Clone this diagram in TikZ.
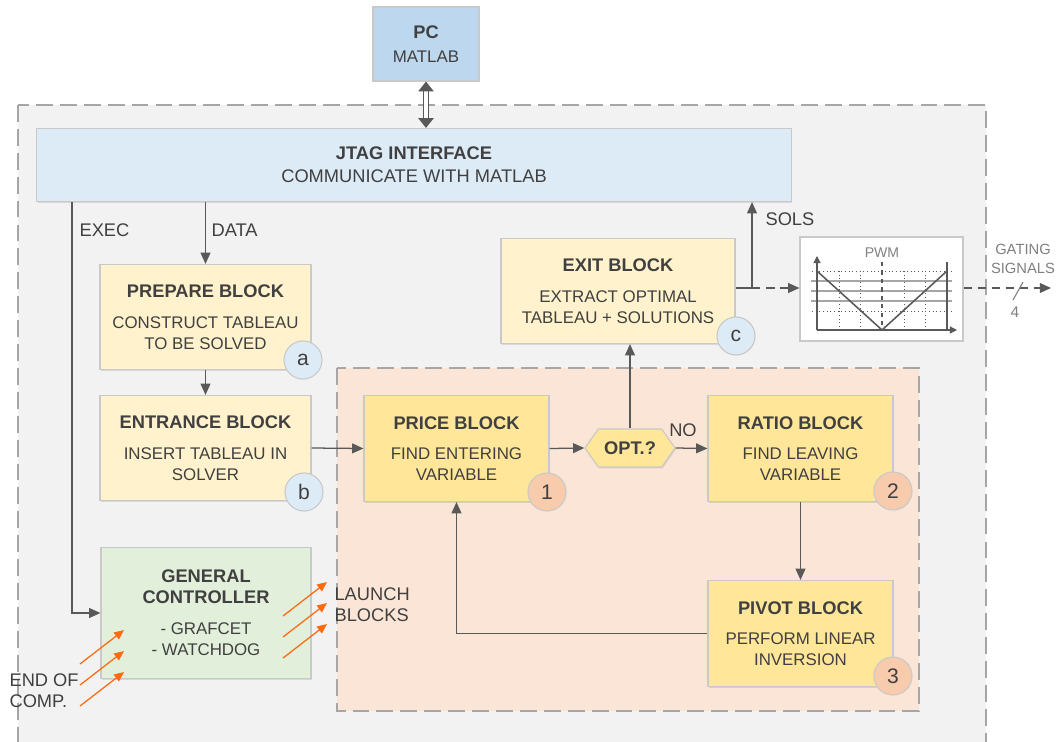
\documentclass[tikz,border=0pt]{standalone}
\usepackage{fontspec}
\setmainfont{Liberation Sans}
\usetikzlibrary{arrows.meta,shapes.symbols,shadows}
\definecolor{txt}{HTML}{404040}
\definecolor{wire}{HTML}{595959}
\definecolor{edge}{HTML}{C9C9C9}
\definecolor{zoneline}{HTML}{A6A6A6}
\definecolor{zonegray}{HTML}{F2F2F2}
\definecolor{zoneorange}{HTML}{FBE5D6}
\definecolor{pcblue}{HTML}{BDD7EE}
\definecolor{jtagblue}{HTML}{DDEBF7}
\definecolor{cream}{HTML}{FFF2CC}
\definecolor{gold}{HTML}{FFE699}
\definecolor{mint}{HTML}{E2EFDA}
\definecolor{peach}{HTML}{F8CBAD}
\definecolor{spark}{HTML}{FF6A10}
\definecolor{softgray}{HTML}{808080}
\newcommand{\blktitle}[1]{{\fontsize{13}{15}\selectfont\bfseries #1}}
\begin{document}
\begin{tikzpicture}[x=0.025cm,y=-0.025cm,line width=.8pt,text=txt,font=\fontsize{13}{15}\selectfont,
  box/.style={draw=edge,align=center,inner sep=1pt,font=\fontsize{12}{15}\selectfont,
    drop shadow={shadow xshift=.7pt,shadow yshift=-.9pt,opacity=.22}},
  conn/.style={draw=wire,line width=.9pt,-{Triangle[length=8pt,width=7pt]}},
  badge/.style={circle,draw=edge,minimum size=.95cm,inner sep=0pt,font=\fontsize{15}{17}\selectfont},
  zone/.style={draw=zoneline,line width=.8pt,dash pattern=on 12pt off 5pt},
  fire/.style={draw=spark,line width=.9pt,-{Triangle[length=7pt,width=6pt]}},
  lbl/.style={inner sep=0pt,font=\fontsize{13}{15}\selectfont}]
\useasboundingbox (0,0) rectangle (1058,742);
\fill[white] (0,0) rectangle (1058,742);
\draw[zone,fill=zonegray] (18,105) rectangle (986,780);
\draw[zone,fill=zoneorange] (337,368) rectangle (919,711);

\node[box,fill=pcblue,minimum width=2.65cm,minimum height=1.85cm] (pc) at (426,44) {\blktitle{PC}\\[2pt]MATLAB};
\node[box,fill=jtagblue,minimum width=18.85cm,minimum height=1.825cm,font=\fontsize{13}{15}\selectfont] (jtag) at (414,165) {\blktitle{JTAG INTERFACE}\\[1.5pt]COMMUNICATE WITH MATLAB};
\node[box,fill=cream,minimum width=5.275cm,minimum height=2.625cm] (prep) at (205.5,317) {\blktitle{PREPARE BLOCK}\\[7pt]CONSTRUCT TABLEAU\\TO BE SOLVED};
\node[box,fill=cream,minimum width=5.275cm,minimum height=2.625cm] (ent) at (205.5,448) {\blktitle{ENTRANCE BLOCK}\\[7pt]INSERT TABLEAU IN\\SOLVER};
\node[box,fill=mint,minimum width=5.25cm,minimum height=3.275cm] (gen) at (206,613) {\blktitle{GENERAL}\\\blktitle{CONTROLLER}\\[7pt]- GRAFCET\\- WATCHDOG};
\node[box,fill=gold,minimum width=4.625cm,minimum height=2.65cm] (price) at (456.5,448.5) {\blktitle{PRICE BLOCK}\\[6pt]FIND ENTERING\\VARIABLE};
\node[box,fill=gold,minimum width=4.625cm,minimum height=2.65cm] (ratio) at (800.5,448.5) {\blktitle{RATIO BLOCK}\\[6pt]FIND LEAVING\\VARIABLE};
\node[box,fill=gold,minimum width=4.625cm,minimum height=2.65cm] (pivot) at (800.5,633.5) {\blktitle{PIVOT BLOCK}\\[6pt]PERFORM LINEAR\\INVERSION};
\node[box,fill=cream,minimum width=5.85cm,minimum height=2.625cm] (exit) at (618,291) {\blktitle{EXIT BLOCK}\\[7pt]EXTRACT OPTIMAL\\TABLEAU + SOLUTIONS};
\node[box,signal,signal to=west and east,signal pointer angle=110,fill=gold,minimum width=2.25cm,minimum height=.95cm,inner sep=0pt,font=\fontsize{13}{15}\selectfont\bfseries] (opt) at (630,448) {OPT.?};
\node[box,fill=white,minimum width=4.075cm,minimum height=2.6cm] (pwm) at (881.5,289) {};

\node[badge,fill=jtagblue] (ba) at (303,360) {a};
\node[badge,fill=jtagblue] (bb) at (304,492) {b};
\node[badge,fill=jtagblue] (bc) at (736,336) {c};
\node[badge,fill=peach] (b1) at (547,492) {1};
\node[badge,fill=peach] (b2) at (893,491) {2};
\node[badge,fill=peach] (b3) at (893,676) {3};

\draw[draw=wire,line width=.8pt,double=white,double distance=2.4pt,{Triangle[length=7pt,width=11pt]}-{Triangle[length=7pt,width=11pt]}] (pc.south) -- (pc.south |- jtag.north);
\coordinate (exectop) at (72,202);
\draw[conn] (exectop) |- (gen.west);
\node[lbl,anchor=west] (exec) at (79,230) {EXEC};
\draw[conn] (jtag.south -| prep.north) -- (prep.north);
\node[lbl,anchor=west] (data) at (211,230) {DATA};
\draw[conn] (prep.south) -- (ent.north);
\draw[conn] (ent.east) -- (price.west);
\draw[conn] (price.east) -- (opt.west);
\draw[conn] (opt.east) -- (ratio.west);
\node[lbl] (no) at (683,430) {NO};
\draw[conn] (opt.north) -- (opt.north |- exit.south);
\draw[conn] (ratio.south) -- (pivot.north);
\draw[conn] (pivot.west) -| (price.south);
\coordinate (solsj) at (752,288);
\draw[draw=wire,line width=.9pt] (exit.east |- solsj) -- (solsj);
\draw[conn] (solsj) -- (solsj |- jtag.south);
\node[lbl,anchor=west] (sols) at (765,219) {SOLS};
\draw[conn,dash pattern=on 6pt off 4pt] (solsj) -- (pwm.west |- solsj);
\coordinate (gateout) at (1051,288);
\draw[conn,dash pattern=on 6pt off 4pt] (pwm.east |- gateout) -- (gateout);
\draw[draw=softgray,line width=.8pt] (1013,300) -- (1023,282);
\node[lbl,text=softgray,font=\fontsize{11}{13}\selectfont] (four) at (1015,312) {4};
\node[lbl,text=softgray,align=center,font=\fontsize{10.5}{13}\selectfont] (gating) at (1023,259) {GATING\\SIGNALS};

\draw[wire,line width=.6pt,dotted] (812,271) -- (952,271) (812,311) -- (952,311);
\foreach \vx in {839,860,904,925}
  \draw[wire,line width=.6pt,dotted] (\vx,271) -- (\vx,330);
\draw[zoneline,line width=1pt] (811,281) -- (952,281) (811,291) -- (952,291) (811,301) -- (952,301);
\draw[wire,line width=.8pt,dashed] (882,262) -- (882,330);
\draw[wire,line width=.8pt] (947,262) -- (947,330);
\draw[wire,line width=.8pt,-{Triangle[length=5pt,width=5pt]}] (817,330) -- (817,256);
\draw[wire,line width=.8pt,-{Triangle[length=5pt,width=5pt]}] (817,330) -- (957,330);
\draw[wire,line width=1.1pt] (817,271) -- (882,330) -- (947,271);
\node[lbl,text=softgray,font=\fontsize{10}{12}\selectfont] (pwmlbl) at (882,253) {PWM};

\foreach \dy in {0,21,42}{
  \draw[fire] (80,664+\dy) -- (124,630+\dy);
  \draw[fire] (283,616+\dy) -- (327,582+\dy);
}
\node[lbl,anchor=west,align=left] (endcomp) at (9,691) {END OF\\COMP.};
\node[lbl,anchor=west,align=left] (launch) at (334,605) {LAUNCH\\BLOCKS};
\end{tikzpicture}
\end{document}
